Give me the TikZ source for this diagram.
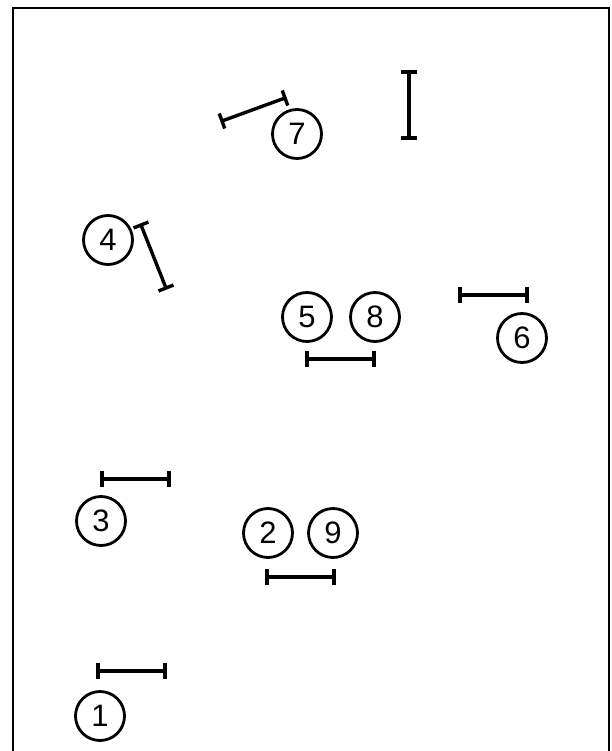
\documentclass[tikz,border=0pt]{standalone}
\usepackage{fontspec}
\setmainfont{Liberation Sans}
\usetikzlibrary{arrows.meta}
\begin{document}
\begin{tikzpicture}[x=1pt,y=-1pt,
  num/.style={circle,draw,line width=2.8pt,minimum size=49pt,inner sep=0pt,font=\fontsize{31}{34}\selectfont},
  gap/.style={line width=3.4pt,{Bar[width=16pt,line width=3.4pt]}-{Bar[width=16pt,line width=3.4pt]},shorten <=-1.7pt,shorten >=-1.7pt}]
\useasboundingbox (0,0) rectangle (611,751);
\clip (0,0) rectangle (611,751);
\draw[line width=2.8pt] (13,800) -- (13,8) -- (609,8) -- (609,800);
\node[num] (n7) at (297,134) {7};
\node[num] (n4) at (108,240) {4};
\node[num] (n5) at (307,317) {5};
\node[num] (n8) at (375,317) {8};
\node[num] (n6) at (522,338) {6};
\node[num] (n3) at (101,521) {3};
\node[num] (n2) at (268,533) {2};
\node[num] (n9) at (333,533) {9};
\node[num] (n1) at (100,716) {1};
\coordinate (a7) at (222,121); \coordinate (b7) at (285,98);
\coordinate (av) at (409,72); \coordinate (bv) at (409,138);
\coordinate (a4) at (141,225); \coordinate (b4) at (166,288);
\coordinate (a58) at (307,359); \coordinate (b58) at (374,359);
\coordinate (a6) at (460,295); \coordinate (b6) at (527,295);
\coordinate (a3) at (102,479); \coordinate (b3) at (169,479);
\coordinate (a29) at (267,577); \coordinate (b29) at (334,577);
\coordinate (a1) at (98,671); \coordinate (b1) at (165,671);
\draw[gap] (a7) -- (b7);
\draw[gap] (av) -- (bv);
\draw[gap] (a4) -- (b4);
\draw[gap] (a58) -- (b58);
\draw[gap] (a6) -- (b6);
\draw[gap] (a3) -- (b3);
\draw[gap] (a29) -- (b29);
\draw[gap] (a1) -- (b1);
\end{tikzpicture}
\end{document}
